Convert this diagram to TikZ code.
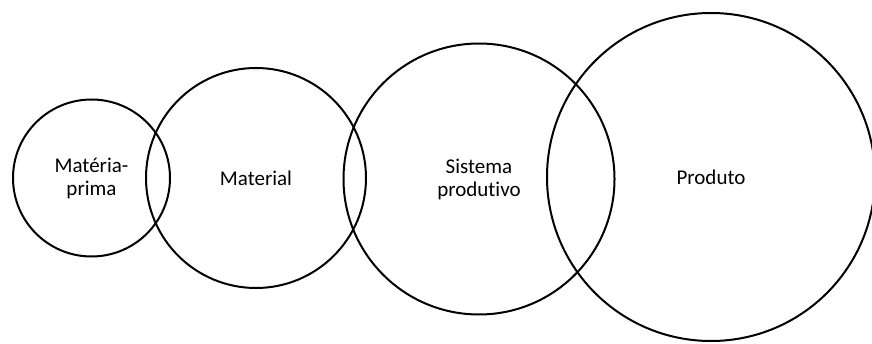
\documentclass[tikz,border=0pt]{standalone}
\usepackage{fontspec}
\setmainfont{Carlito}[Ligatures={NoCommon,NoContextual}]
\usetikzlibrary{positioning}
\begin{document}
\begin{tikzpicture}[x=0.5pt,y=0.5pt,
    ring/.style={draw, circle, line width=1pt, inner sep=0pt, align=center,
        font=\fontsize{10.5}{11.5}\selectfont}]
    \useasboundingbox (0,0) rectangle (872,343);

    \node[ring, minimum size=78.5pt] (materiaprima) at (91.5,165) {Matéria-\\prima};
    \node[ring, minimum size=110pt] (material) at (256,165) {Material};
    \node[ring, minimum size=135.5pt] (sistema) at (479,164) {Sistema\\produt\kern0pt ivo};
    \node[ring, minimum size=164pt] (produto) at (711,166) {Produto};
\end{tikzpicture}
\end{document}
